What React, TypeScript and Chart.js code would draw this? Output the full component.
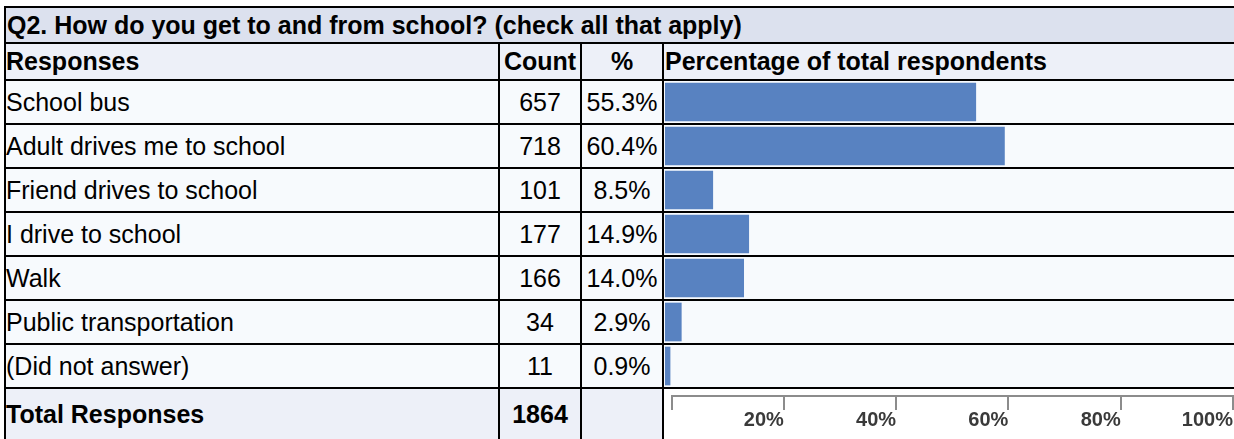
import React, { useEffect, useRef } from "react";
import { Chart, registerables } from "chart.js";

Chart.register(...registerables);

// ---- data ----
const title = "Q2. How do you get to and from school? (check all that apply)";
const headers = ["Responses", "Count", "%", "Percentage of total respondents"];
const categories = [
  "School bus",
  "Adult drives me to school",
  "Friend drives to school",
  "I drive to school",
  "Walk",
  "Public transportation",
  "(Did not answer)",
];
const counts = [657, 718, 101, 177, 166, 34, 11];
const percents = [55.3, 60.4, 8.5, 14.9, 14.0, 2.9, 0.9];
const totalLabel = "Total Responses";
const totalCount = 1864;
const axisTicks = [0, 20, 40, 60, 80, 100];

// ---- style ----
const FONT = '"Liberation Sans", Arial, Helvetica, sans-serif';
const BAR_COLOR = "#5882c1";
const TITLE_BG = "#dce1ee";
const HEAD_BG = "#edf0f8";
const ROW_BG = "#f7fafd";

const COLS = {
  label: [6, 498],
  count: [500, 580],
  pct: [582, 662],
  chart: [664, 1234],
};
const ROW_TOP = 81;
const ROW_PITCH = 44;
const ROW_H = 42;

type CellProps = {
  col: number[];
  y: number;
  h: number;
  bg: string;
  text?: React.ReactNode;
  align?: "left" | "center" | "right";
  bold?: boolean;
  pad?: number;
};

function Cell({ col, y, h, bg, text, align = "left", bold = false, pad = 0 }: CellProps) {
  return (
    <div
      style={{
        position: "absolute",
        left: col[0],
        top: y,
        width: col[1] - col[0],
        height: h,
        background: bg,
        boxSizing: "border-box",
        paddingLeft: align === "left" ? pad : 0,
        textAlign: align,
        fontFamily: FONT,
        fontWeight: bold ? "bold" : "normal",
        fontSize: 25,
        lineHeight: `${h}px`,
        whiteSpace: "nowrap",
        overflow: "hidden",
        color: "#000",
      }}
    >
      {text}
    </div>
  );
}

export default function App() {
  const barRef = useRef<HTMLCanvasElement>(null);
  const axisRef = useRef<HTMLCanvasElement>(null);

  useEffect(() => {
    const bar = new Chart(barRef.current!, {
      type: "bar",
      data: {
        labels: categories,
        datasets: [
          {
            data: percents,
            backgroundColor: BAR_COLOR,
            borderWidth: 0,
            barThickness: 38,
          },
        ],
      },
      options: {
        indexAxis: "y",
        responsive: false,
        animation: false,
        layout: { padding: { left: 1, right: 7, top: 0, bottom: 0 } },
        plugins: { legend: { display: false }, tooltip: { enabled: false } },
        scales: {
          x: { display: false, min: 0, max: 100 },
          y: { display: false, offset: true },
        },
      },
    });

    const axis = new Chart(axisRef.current!, {
      type: "scatter",
      data: { datasets: [] },
      options: {
        responsive: false,
        animation: false,
        layout: { padding: { left: 7.5, right: 1, top: 0, bottom: 0 } },
        plugins: { legend: { display: false }, tooltip: { enabled: false } },
        scales: {
          x: {
            type: "linear",
            position: "bottom",
            min: 0,
            max: 100,
            afterBuildTicks: (scale: any) => {
              scale.ticks = axisTicks.map((value) => ({ value }));
            },
            ticks: {
              align: "end",
              padding: 0,
              color: "#3a3a3a",
              font: { family: FONT, size: 20, weight: "bold", lineHeight: 1 },
              callback: (v: any) => (Number(v) === 0 ? "" : `${v}%`),
            },
            grid: {
              drawOnChartArea: false,
              drawTicks: true,
              tickLength: 14,
              color: "#8c8c8c",
              lineWidth: 2,
            },
            border: { display: true, color: "#8c8c8c", width: 2 },
          },
          y: { display: false },
        },
      },
    });

    return () => {
      bar.destroy();
      axis.destroy();
    };
  }, []);

  const fullRow = [6, 1234];
  const totalTop = ROW_TOP + categories.length * ROW_PITCH;

  return (
    <div
      style={{
        position: "absolute",
        left: 0,
        top: 0,
        width: 1234,
        height: 439,
        overflow: "hidden",
      }}
    >
      <div
        style={{
          position: "absolute",
          left: 4,
          top: 6,
          width: 1230,
          height: 433,
          background: "#000",
        }}
      />
      <Cell col={fullRow} y={8} h={34} bg={TITLE_BG} text={title} bold pad={1} />
      <Cell col={COLS.label} y={44} h={35} bg={HEAD_BG} text={headers[0]} bold pad={0} />
      <Cell col={COLS.count} y={44} h={35} bg={HEAD_BG} text={headers[1]} bold align="center" />
      <Cell col={COLS.pct} y={44} h={35} bg={HEAD_BG} text={headers[2]} bold align="center" />
      <Cell col={COLS.chart} y={44} h={35} bg={HEAD_BG} text={headers[3]} bold pad={1} />
      {categories.map((c, i) => {
        const y = ROW_TOP + i * ROW_PITCH;
        return (
          <React.Fragment key={c}>
            <Cell col={COLS.label} y={y} h={ROW_H} bg={ROW_BG} text={c} pad={0} />
            <Cell col={COLS.count} y={y} h={ROW_H} bg={ROW_BG} text={counts[i]} align="center" />
            <Cell col={COLS.pct} y={y} h={ROW_H} bg={ROW_BG} text={`${percents[i].toFixed(1)}%`} align="center" />
            <Cell col={COLS.chart} y={y} h={ROW_H} bg={ROW_BG} />
          </React.Fragment>
        );
      })}
      <Cell col={COLS.label} y={totalTop} h={50} bg={HEAD_BG} text={totalLabel} bold pad={0} />
      <Cell col={COLS.count} y={totalTop} h={50} bg={HEAD_BG} text={totalCount} bold align="center" />
      <Cell col={COLS.pct} y={totalTop} h={50} bg={HEAD_BG} />
      <Cell col={COLS.chart} y={totalTop} h={50} bg="#ffffff" />
      <canvas
        ref={barRef}
        width={570}
        height={308}
        style={{ position: "absolute", left: 664, top: 80, width: 570, height: 308 }}
      />
      <canvas
        ref={axisRef}
        width={570}
        height={74}
        style={{ position: "absolute", left: 664, top: 356, width: 570, height: 74 }}
      />
    </div>
  );
}
